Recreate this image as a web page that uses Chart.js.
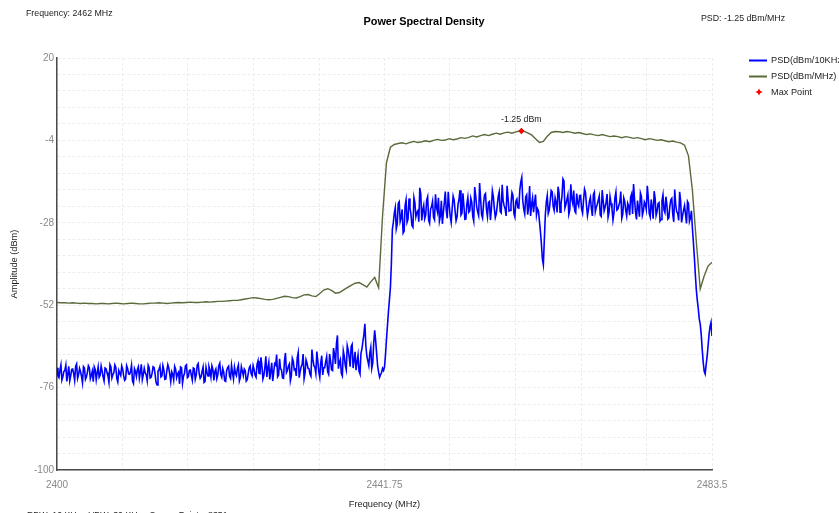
<!DOCTYPE html>
<html>
<head>
<meta charset="utf-8">
<script src="https://cdn.jsdelivr.net/npm/chart.js@4.4.1/dist/chart.umd.min.js"></script>
<style>
html,body{margin:0;padding:0;background:#fff;overflow:hidden;}
#wrap{position:relative;width:839px;height:513px;}
</style>
</head>
<body>
<div id="wrap"><canvas id="c" width="839" height="513"></canvas></div>
<script>
// ---------------- DATA ----------------
const chartTitle = 'Power Spectral Density';
const headerLeft = 'Frequency: 2462 MHz';
const headerRight = 'PSD: -1.25 dBm/MHz';
const footerText = 'RBW: 10 KHz   VBW: 30 KHz   Sweep Points: 8351';
const xAxisTitle = 'Frequency (MHz)';
const yAxisTitle = 'Amplitude (dBm)';
const seriesNames = ['PSD(dBm/10KHz)', 'PSD(dBm/MHz)', 'Max Point'];

const freqStart = 2400;     // MHz, first sample of both traces
const blueStep = 0.25;      // MHz between PSD(dBm/10KHz) samples (plus one mid sample each)
const oliveStep = 0.5;      // MHz between PSD(dBm/MHz) samples

// PSD(dBm/10KHz) values at 2400 .. 2483.5 MHz every 0.25 MHz
const blueValues = [
  // 2400 - 2425
  -70.2,-73.1,-69.4,-72.8,-71.0,-74.2,-69.8,-72.5,-70.6,-73.9,
  -69.1,-72.2,-71.4,-74.6,-70.3,-72.9,-69.6,-73.4,-71.2,-70.0,
  -73.7,-69.9,-72.4,-71.1,-74.1,-70.5,-72.7,-69.3,-73.2,-71.6,
  -70.1,-74.4,-71.8,-69.7,-72.6,-73.5,-70.4,-72.1,-69.5,-74.8,
  -71.3,-70.7,-73.3,-69.2,-72.3,-71.7,-74.0,-70.2,-73.0,-69.9,
  -72.0,-75.2,-70.8,-72.9,-69.6,-73.6,-71.1,-70.3,-74.3,-72.2,
  -69.8,-73.1,-71.5,-70.0,-74.7,-71.9,-69.4,-72.8,-70.9,-73.8,
  -70.5,-72.4,-69.0,-73.3,-71.2,-74.5,-70.1,-72.6,-71.0,-69.7,
  -73.9,-70.6,-72.3,-68.9,-73.0,-71.4,-74.2,-70.2,-72.7,-69.5,
  -73.5,-71.8,-70.4,-74.0,-69.9,-72.5,-71.1,-73.7,-70.3,-72.0,
  -69.6,
  // 2425.25 - 2434
  -72.4,-69.3,-71.8,-67.2,-73.5,-70.1,-72.9,-68.6,-71.2,-74.1,
  -69.0,-66.4,-72.3,-70.5,-73.2,-68.1,-71.6,-69.7,-74.0,-67.5,
  -70.8,-72.6,-65.8,-71.3,-69.2,-73.4,-67.9,-70.4,-72.1,-64.9,
  -69.6,-71.9,-68.3,-73.0,-66.7,-70.2,
  // 2434.25 - 2442.75
  -68.5,-71.4,-66.2,-70.8,-64.5,-69.1,-60.8,-68.7,-71.9,-65.3,
  -69.5,-63.8,-67.2,-64.0,-70.3,-65.6,-68.4,-71.2,-66.0,-62.5,
  -57.4,-66.8,-69.6,-64.3,-68.9,-59.3,-66.1,-71.5,-72.2,-70.4,
  -70.0,-62.0,-54.0,-47.0,-30.0,
  // 2443 - 2480.75
  -25.2,-29.8,-22.4,-27.6,-24.1,-30.5,-21.3,-26.9,-23.7,-28.8,
  -20.6,-26.2,-24.5,-17.8,-27.3,-22.9,-25.8,-20.4,-28.1,-23.3,
  -26.4,-19.7,-24.8,-27.5,-21.6,-25.1,-18.9,-26.7,-22.8,-27.9,
  -20.2,-24.6,-26.3,-21.1,-25.7,-19.4,-27.0,-22.5,-24.9,-20.8,
  -26.1,-17.6,-23.4,-25.9,-21.0,-26.6,-19.9,-24.2,-22.1,-27.2,
  -18.7,-23.8,-25.4,-20.3,-24.7,-16.9,-23.0,-26.0,-20.9,-24.4,
  -19.2,-25.3,-21.7,-23.6,-18.4,-14.8,-24.0,-20.5,-25.6,-17.3,
  -22.7,-24.9,-19.8,-23.9,-27.5,-34.0,-40.2,-25.8,-20.1,-24.3,
  -18.6,-23.2,-20.7,-25.0,-19.3,-22.6,-15.2,-23.7,-21.2,-25.5,
  -16.8,-22.4,-24.6,-19.5,-23.1,-20.0,-25.2,-18.2,-22.9,-24.1,
  -20.6,-26.0,-19.1,-23.5,-21.4,-25.7,-18.5,-24.5,-22.0,-26.4,
  -20.4,-23.8,-25.1,-19.0,-24.0,-21.9,-26.7,-20.8,-24.4,-22.3,
  -25.8,-19.6,-16.7,-24.9,-21.5,-26.2,-20.3,-24.6,-22.6,-17.2,
  -25.3,-21.2,-26.8,-20.9,-24.7,-22.1,-27.0,-19.8,-25.0,-22.8,
  -26.5,-21.3,-25.6,-18.3,-24.8,-27.3,-21.7,-25.9,-23.0,-28.2,
  -22.4,-26.6,
  // 2481 - 2483.5
  -29.5,-38.0,-47.5,-53.0,-57.5,-64.8,-71.2,-69.4,-63.8,-58.2,
  -61.0
];

// PSD(dBm/10KHz) mid samples at 2400.125 .. 2483.375 MHz every 0.25 MHz
const blueMidValues = [
  // 2400.125 - 2424.875
  -72.6,-70.9,-73.8,-71.3,-69.5,-72.1,-74.0,-70.7,-71.9,-69.8,
  -73.3,-70.4,-72.7,-69.9,-73.6,-71.5,-70.2,-72.4,-74.3,-70.8,
  -71.7,-73.0,-69.7,-72.9,-70.3,-71.6,-74.5,-70.0,-72.2,-69.4,
  -73.4,-71.0,-72.5,-70.6,-73.9,-69.6,-72.0,-71.3,-74.1,-70.5,
  -72.8,-69.9,-71.5,-73.7,-70.4,-72.3,-69.5,-73.2,-71.8,-70.1,
  -74.4,-71.2,-69.8,-72.6,-70.9,-73.5,-69.3,-72.1,-71.4,-73.8,
  -70.6,-72.0,-74.9,-70.2,-72.7,-69.7,-73.1,-71.0,-72.4,-70.3,
  -73.6,-69.5,-71.9,-72.8,-70.0,-74.2,-71.6,-69.9,-72.9,-70.7,
  -71.3,-73.4,-69.6,-72.2,-70.4,-74.0,-71.1,-69.8,-73.3,-71.7,
  -70.1,-72.5,-69.4,-73.0,-71.2,-70.6,-74.1,-71.9,-69.7,-72.6,
  // 2425.125 - 2433.875
  -70.7,-73.0,-68.2,-71.9,-69.8,-72.4,-66.9,-70.3,-73.6,-68.8,
  -71.5,-69.4,-72.8,-67.6,-70.9,-73.3,-65.9,-71.0,-69.1,-72.5,
  -68.4,-70.6,-67.3,-73.1,-69.9,-66.2,-71.7,-68.9,-70.5,-72.7,
  -67.8,-70.1,-65.5,-71.4,-68.7,-72.3,
  // 2434.125 - 2442.625
  -70.2,-67.0,-72.1,-68.3,-71.0,-66.4,-63.2,-70.5,-67.8,-72.6,
  -66.9,-70.8,-65.1,-69.9,-63.4,-68.0,-70.9,-66.5,-72.0,-64.7,
  -60.5,-63.9,-68.2,-66.0,-70.4,-63.0,-62.4,-69.7,-73.0,-71.6,
  -71.0,-66.5,-58.0,-50.5,-40.0,
  // 2442.875 - 2480.625
  -27.9,-23.6,-28.4,-21.9,-26.5,-31.0,-23.0,-27.8,-20.9,-25.6,
  -29.3,-22.1,-25.0,-27.7,-19.6,-24.3,-26.8,-21.4,-27.2,-24.0,
  -21.8,-27.1,-23.5,-20.7,-26.0,-28.3,-22.2,-24.4,-19.0,-26.1,
  -23.9,-21.3,-27.4,-22.6,-18.5,-25.2,-23.1,-26.9,-20.6,-24.5,
  -22.0,-27.5,-20.1,-24.8,-16.4,-25.6,-22.4,-19.5,-26.2,-21.8,
  -24.1,-20.4,-26.5,-22.9,-19.0,-25.1,-21.6,-23.9,-17.2,-24.6,
  -22.5,-20.0,-26.3,-21.1,-23.7,-16.1,-21.5,-25.4,-19.9,-23.3,
  -26.0,-20.8,-22.2,-25.7,-24.5,-30.5,-38.5,-33.0,-22.0,-25.3,
  -21.6,-19.0,-24.4,-22.1,-17.5,-24.9,-20.3,-15.8,-22.7,-19.9,
  -24.2,-21.0,-18.6,-25.1,-22.2,-20.1,-24.0,-21.4,-19.2,-25.9,
  -21.7,-23.9,-19.8,-24.8,-22.6,-20.2,-26.1,-21.5,-23.4,-19.6,
  -25.0,-22.3,-27.2,-20.7,-24.3,-22.9,-18.9,-25.5,-21.8,-26.0,
  -23.1,-20.5,-25.4,-21.1,-27.0,-23.6,-19.3,-25.8,-21.9,-24.1,
  -20.6,-26.3,-23.5,-18.8,-25.9,-22.4,-27.5,-21.5,-24.2,-20.4,
  -26.9,-23.2,-20.9,-27.7,-22.7,-25.2,-19.0,-27.9,-24.3,-25.5,
  -21.8,-27.6,
  // 2480.875 - 2483.375
  -24.5,-33.5,-43.0,-50.5,-56.0,-60.5,-68.5,-72.0,-67.0,-60.5,
  -57.0
];

// PSD(dBm/MHz) values, 2400 .. 2483.5 MHz every 0.5 MHz
const oliveValues = [
  -51.2,-51.3,-51.3,-51.4,-51.3,-51.4,-51.5,-51.4,-51.5,-51.5,
  -51.6,-51.5,-51.5,-51.6,-51.5,-51.4,-51.5,-51.6,-51.5,-51.4,
  -51.5,-51.6,-51.6,-51.5,-51.4,-51.4,-51.3,-51.4,-51.5,-51.4,
  -51.3,-51.2,-51.3,-51.2,-51.1,-51.2,-51.2,-51.1,-51.0,-51.1,
  -51.0,-50.9,-50.9,-50.8,-50.7,-50.6,-50.6,-50.4,-50.2,-50.0,
  -49.8,-49.9,-50.1,-50.3,-50.4,-50.3,-50.0,-49.7,-49.4,-49.5,
  -49.8,-49.9,-49.5,-49.0,-48.9,-49.3,-49.5,-48.6,-47.6,-47.2,
  -47.7,-48.5,-48.3,-47.6,-46.9,-46.2,-45.6,-45.4,-46.0,-46.7,
  -45.2,-43.9,-46.9,-26.0,-10.5,-6.0,-5.2,-4.9,
  -4.7,-5.0,-4.6,-4.3,-4.6,-4.4,-4.1,-4.4,-4.0,-3.7,
  -4.0,-3.9,-3.5,-3.8,-3.6,-3.2,-3.4,-3.1,-2.7,-3.0,
  -2.6,-2.3,-2.6,-2.2,-1.9,-2.2,-1.8,-1.6,-1.9,-1.5,
  -1.28,-1.32,-1.8,-2.4,-3.5,-4.6,-4.3,-2.8,-1.7,-1.4,
  -1.5,-1.7,-1.4,-1.6,-1.9,-1.7,-2.0,-2.3,-2.1,-2.4,
  -2.6,-2.3,-2.6,-2.9,-2.7,-2.9,-3.2,-2.9,-3.1,-3.4,
  -3.2,-3.5,-3.8,-3.5,-3.7,-4.0,-3.8,-4.1,-4.4,-4.2,
  -4.5,-4.7,-5.4,-8.5,-18.5,-33.5,-47.3,-43.5,-40.6,-39.5
];

const maxPointFreq = [2459.2];
const maxPointValue = [-1.25];
const maxPointLabel = ['-1.25 dBm'];

const xMin = 2400, xMax = 2483.5, xDivisions = 10;
const xTickLabels = ['2400', '2441.75', '2483.5'];     // every 5th division
const yMax = 20, yMin = -100, yDivisions = 25;
const yTickLabels = ['20', '-4', '-28', '-52', '-76', '-100']; // every 5th division

// ---------------- FONTS ----------------
function hasFont(name){
  const c = document.createElement('canvas').getContext('2d');
  c.font = '20px monospace';
  const a = c.measureText('abcdefghijklmnopqrstuvw').width;
  c.font = '20px "' + name + '", monospace';
  return c.measureText('abcdefghijklmnopqrstuvw').width !== a;
}
const narrow = hasFont('Liberation Sans Narrow');
const uiFamily = narrow ? '"Liberation Sans Narrow", "Liberation Sans", sans-serif' : '"Liberation Sans", Arial, sans-serif';
const uiK = narrow ? 1 : 0.84;
const tickFamily = '"Liberation Sans", Arial, sans-serif';

// ---------------- BUILD ----------------
const blueData = [];
blueValues.forEach((v, i) => {
  blueData.push({x: freqStart + i * blueStep, y: v});
  if (i < blueMidValues.length) blueData.push({x: freqStart + blueStep / 2 + i * blueStep, y: blueMidValues[i]});
});
const oliveData = oliveValues.map((v, i) => ({x: freqStart + i * oliveStep, y: v}));
const maxData = maxPointFreq.map((f, i) => ({x: f, y: maxPointValue[i]}));

const BLUE = '#0000ff', OLIVE = '#5a6a3a', RED = '#ff0000';

const decor = {
  id: 'decor',
  afterDatasetsDraw(chart){
    const ctx = chart.ctx;
    ctx.save();
    const meta = chart.getDatasetMeta(2);
    meta.data.forEach((pt, i) => {
      ctx.font = (10.5*uiK).toFixed(1) + 'px ' + uiFamily;
      ctx.fillStyle = '#222';
      ctx.textAlign = 'center';
      ctx.textBaseline = 'middle';
      ctx.fillText(maxPointLabel[i], pt.x, pt.y - 11);
    });
    ctx.restore();
  },
  afterDraw(chart){
    const ctx = chart.ctx;
    ctx.save();
    ctx.textBaseline = 'middle';
    ctx.fillStyle = '#000';
    ctx.textAlign = 'center';
    ctx.font = 'bold ' + (13*uiK).toFixed(1) + 'px ' + uiFamily;
    ctx.fillText(chartTitle, 424, 22);
    ctx.font = (10.5*uiK).toFixed(1) + 'px ' + uiFamily;
    ctx.fillStyle = '#222';
    ctx.textAlign = 'left';
    ctx.fillText(headerLeft, 26, 14);
    ctx.fillText(headerRight, 701, 19);
    ctx.fillText(footerText, 27, 515.5);
    const rows = [60, 76, 92];
    const ds = chart.data.datasets;
    ctx.font = (11*uiK).toFixed(1) + 'px ' + uiFamily;
    ds.forEach((d, i) => {
      const y = rows[i];
      if (i < 2) {
        ctx.strokeStyle = d.borderColor;
        ctx.lineWidth = 2;
        ctx.beginPath();
        ctx.moveTo(749, y + 0.5);
        ctx.lineTo(767, y + 0.5);
        ctx.stroke();
      } else {
        ctx.fillStyle = RED;
        ctx.beginPath();
        ctx.moveTo(759, y - 3.5); ctx.lineTo(760.2, y - 1.2); ctx.lineTo(762.5, y);
        ctx.lineTo(760.2, y + 1.2); ctx.lineTo(759, y + 3.5); ctx.lineTo(757.8, y + 1.2);
        ctx.lineTo(755.5, y); ctx.lineTo(757.8, y - 1.2); ctx.closePath(); ctx.fill();
      }
      ctx.fillStyle = '#222';
      ctx.fillText(d.label, 771, y);
    });
    ctx.restore();
  }
};

new Chart(document.getElementById('c'), {
  type: 'line',
  data: {
    datasets: [
      {label: seriesNames[0], data: blueData, borderColor: BLUE, backgroundColor: BLUE, borderWidth: 1.6, pointRadius: 0, tension: 0, order: 3},
      {label: seriesNames[1], data: oliveData, borderColor: OLIVE, backgroundColor: OLIVE, borderWidth: 1.4, pointRadius: 0, tension: 0, order: 2},
      {label: seriesNames[2], type: 'scatter', data: maxData, showLine: false, pointStyle: 'rectRot', pointRadius: 3.2, borderWidth: 0, backgroundColor: RED, borderColor: RED, order: 1}
    ]
  },
  options: {
    responsive: false,
    animation: false,
    events: [],
    layout: {padding: {left: 0, top: 58, right: 127, bottom: 0}},
    plugins: {legend: {display: false}, tooltip: {enabled: false}, title: {display: false}},
    scales: {
      x: {
        type: 'linear', min: xMin, max: xMax,
        afterBuildTicks: s => {
          const t = [];
          for (let k = 0; k <= xDivisions; k++) t.push({value: Math.round((xMin + (xMax - xMin) * k / xDivisions) * 1000) / 1000});
          s.ticks = t;
        },
        afterFit: s => { s.height = 43; },
        grid: {color: '#ededed', lineWidth: 1, drawTicks: false},
        border: {display: true, color: '#4a4a4a', width: 1.5, dash: [3, 2]},
        ticks: {
          autoSkip: false, maxRotation: 0, padding: 9, color: '#8a8a8a',
          font: {family: tickFamily, size: 10},
          callback: (v, i) => (i % 5 === 0 ? xTickLabels[i / 5] : '')
        },
        title: {display: true, text: xAxisTitle, color: '#222', font: {family: uiFamily, size: 11*uiK}, padding: {top: 0, bottom: 3}}
      },
      y: {
        type: 'linear', min: yMin, max: yMax,
        afterBuildTicks: s => {
          const t = [];
          for (let k = 0; k <= yDivisions; k++) t.push({value: Math.round((yMin + (yMax - yMin) * k / yDivisions) * 1000) / 1000});
          s.ticks = t;
        },
        afterFit: s => { s.width = 57; },
        grid: {color: '#ededed', lineWidth: 1, drawTicks: false},
        border: {display: true, color: '#4a4a4a', width: 1.5, dash: [3, 2]},
        ticks: {
          autoSkip: false, padding: 3, color: '#8a8a8a',
          font: {family: tickFamily, size: 10},
          callback: (v, i) => (i % 5 === 0 ? yTickLabels[5 - i / 5] : '')
        },
        title: {display: true, text: yAxisTitle, color: '#222', font: {family: uiFamily, size: 11*uiK}, padding: {top: 9, bottom: 0}}
      }
    }
  },
  plugins: [decor]
});
</script>
</body>
</html>
